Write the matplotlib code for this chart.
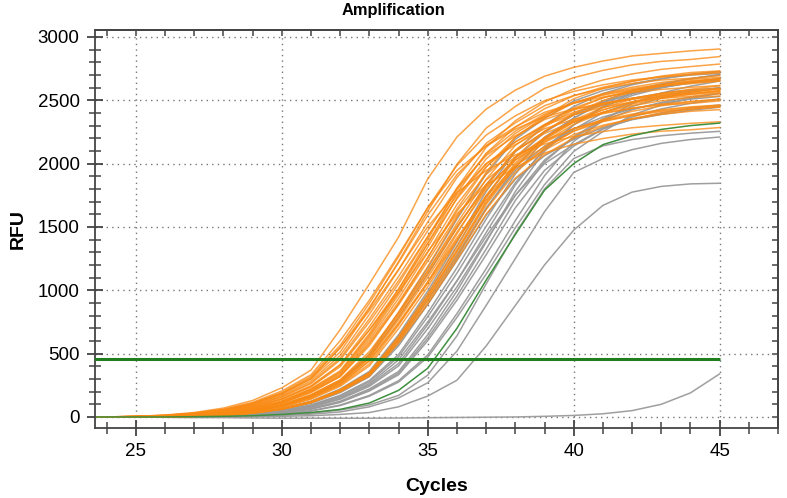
import matplotlib
matplotlib.use("Agg")
import matplotlib.pyplot as plt
from matplotlib.ticker import MultipleLocator

# cycle numbers and RFU readings per well
cycles = list(range(23, 46))
threshold = 455

orange_rfu = [
    [0, 0, 5, 15, 35, 70, 130, 230, 370, 690, 1050, 1420, 1880, 2210, 2430, 2580, 2690, 2760, 2810, 2850, 2870, 2890, 2905],
    [0, 0, 3, 10, 24, 51, 98, 178, 299, 513, 855, 1226, 1625, 1995, 2280, 2451, 2594, 2679, 2736, 2779, 2807, 2822, 2845],
    [0, 0, 3, 9, 23, 49, 93, 169, 284, 486, 810, 1161, 1539, 1890, 2160, 2322, 2457, 2538, 2592, 2633, 2660, 2673, 2695],
    [0, 0, 0, 5, 14, 33, 66, 123, 219, 356, 644, 986, 1370, 1767, 2082, 2288, 2433, 2535, 2603, 2650, 2685, 2707, 2726],
    [0, 0, 0, 5, 13, 31, 62, 117, 208, 338, 611, 936, 1300, 1677, 1976, 2171, 2309, 2405, 2470, 2514, 2548, 2569, 2587],
    [0, 0, 0, 5, 13, 30, 60, 113, 202, 328, 592, 907, 1260, 1625, 1915, 2104, 2238, 2331, 2394, 2437, 2470, 2490, 2507],
    [0, 0, 0, 3, 9, 23, 48, 92, 168, 281, 482, 804, 1152, 1528, 1876, 2144, 2305, 2439, 2519, 2573, 2613, 2640, 2653],
    [0, 0, 0, 3, 9, 22, 46, 88, 160, 269, 461, 768, 1101, 1459, 1792, 2048, 2202, 2330, 2406, 2458, 2496, 2522, 2534],
    [0, 0, 0, 2, 9, 21, 45, 86, 155, 260, 446, 744, 1066, 1414, 1736, 1984, 2133, 2257, 2331, 2381, 2418, 2443, 2455],
    [0, 0, 0, 0, 5, 13, 31, 63, 118, 210, 341, 616, 943, 1310, 1690, 1991, 2188, 2327, 2424, 2489, 2534, 2568, 2589],
    [0, 0, 0, 0, 5, 13, 30, 61, 114, 203, 330, 597, 914, 1270, 1638, 1930, 2121, 2256, 2350, 2413, 2456, 2489, 2510],
    [0, 0, 0, 0, 5, 14, 32, 65, 122, 216, 351, 635, 972, 1350, 1742, 2052, 2255, 2398, 2498, 2565, 2611, 2646, 2668],
    [0, 0, 5, 12, 28, 56, 105, 186, 303, 548, 839, 1165, 1503, 1771, 1946, 2069, 2155, 2214, 2253, 2283, 2302, 2318, 2330],
    [0, 0, 2, 8, 19, 41, 79, 143, 240, 412, 687, 985, 1305, 1603, 1832, 1969, 2084, 2153, 2198, 2233, 2256, 2267, 2285],
    [0, 0, 0, 5, 12, 30, 59, 111, 197, 320, 578, 886, 1230, 1587, 1870, 2054, 2185, 2276, 2337, 2379, 2411, 2430, 2448],
    [0, 0, 3, 9, 22, 46, 89, 161, 271, 464, 774, 1109, 1471, 1806, 2064, 2219, 2348, 2425, 2477, 2516, 2541, 2554, 2575],
    [0, 0, 0, 3, 10, 23, 50, 95, 173, 290, 497, 828, 1187, 1573, 1932, 2208, 2374, 2512, 2594, 2650, 2691, 2719, 2732],
    [0, 0, 0, 0, 5, 12, 30, 60, 112, 198, 322, 583, 893, 1240, 1600, 1885, 2071, 2202, 2294, 2356, 2398, 2430, 2450],
    [0, 0, 5, 13, 31, 61, 115, 205, 333, 602, 922, 1280, 1651, 1946, 2138, 2273, 2368, 2432, 2476, 2509, 2529, 2547, 2560],
    [0, 0, 0, 5, 13, 32, 64, 121, 214, 348, 630, 965, 1340, 1729, 2037, 2238, 2380, 2479, 2546, 2592, 2626, 2648, 2667],
    [0, 0, 0, 3, 9, 22, 47, 90, 164, 275, 472, 786, 1127, 1493, 1834, 2096, 2253, 2384, 2463, 2515, 2555, 2581, 2594],
    [0, 0, 0, 0, 5, 13, 31, 62, 117, 208, 338, 611, 936, 1300, 1677, 1976, 2171, 2309, 2405, 2470, 2514, 2548, 2574],
    [0, 0, 3, 9, 21, 45, 86, 156, 263, 450, 750, 1075, 1425, 1750, 2000, 2150, 2275, 2350, 2400, 2438, 2463, 2475, 2495],
    [0, 0, 0, 6, 14, 34, 67, 126, 224, 364, 658, 1008, 1400, 1806, 2128, 2338, 2486, 2590, 2660, 2708, 2744, 2766, 2786],
    [0, 0, 0, 2, 9, 21, 44, 85, 153, 257, 441, 735, 1054, 1397, 1715, 1960, 2107, 2230, 2303, 2352, 2389, 2413, 2426],
    [0, 0, 0, 0, 5, 13, 32, 63, 119, 211, 343, 620, 950, 1320, 1703, 2006, 2204, 2344, 2442, 2508, 2553, 2587, 2614],
    [0, 0, 4, 11, 27, 55, 105, 186, 309, 545, 865, 1218, 1593, 1913, 2143, 2290, 2405, 2476, 2526, 2562, 2586, 2602, 2617],
    [0, 0, 4, 12, 28, 57, 109, 193, 321, 566, 898, 1265, 1654, 1986, 2225, 2377, 2497, 2570, 2622, 2660, 2685, 2701, 2717],
    [0, 0, 1, 7, 18, 40, 77, 144, 247, 412, 713, 1051, 1423, 1790, 2075, 2256, 2391, 2482, 2540, 2583, 2615, 2631, 2652],
    [0, 0, 1, 7, 17, 38, 74, 138, 238, 397, 686, 1011, 1370, 1723, 1997, 2171, 2301, 2388, 2445, 2486, 2516, 2532, 2552],
    [0, 0, 0, 4, 12, 28, 57, 108, 192, 319, 562, 891, 1256, 1642, 1971, 2209, 2360, 2479, 2552, 2603, 2641, 2665, 2681],
    [0, 0, 0, 4, 11, 26, 52, 99, 176, 293, 516, 818, 1153, 1508, 1810, 2029, 2168, 2277, 2344, 2391, 2425, 2448, 2463],
    [0, 0, 0, 1, 7, 18, 39, 75, 140, 242, 403, 697, 1027, 1391, 1750, 2028, 2205, 2337, 2426, 2483, 2525, 2556, 2571],
    [0, 0, 0, 1, 8, 18, 41, 78, 146, 251, 419, 724, 1067, 1445, 1817, 2106, 2290, 2427, 2519, 2579, 2622, 2654, 2670],
]

gray_rfu = [
    [0, 0, 0, 3, 10, 23, 49, 95, 171, 288, 493, 822, 1178, 1562, 1918, 2192, 2357, 2494, 2576, 2630, 2672, 2699, 2713],
    [0, 0, 0, 0, 6, 14, 33, 66, 124, 221, 359, 649, 994, 1380, 1780, 2098, 2305, 2451, 2553, 2622, 2669, 2705, 2727],
    [0, 0, 0, 0, 5, 13, 32, 65, 121, 215, 350, 632, 968, 1345, 1735, 2044, 2246, 2389, 2488, 2555, 2601, 2636, 2658],
    [0, 0, 0, 0, 3, 10, 23, 49, 95, 171, 288, 493, 822, 1178, 1562, 1918, 2192, 2357, 2494, 2576, 2630, 2672, 2699],
    [0, 0, 0, 0, 3, 9, 22, 48, 91, 165, 277, 475, 792, 1135, 1505, 1848, 2112, 2270, 2402, 2482, 2534, 2574, 2600],
    [0, 0, 0, 0, 0, 6, 14, 33, 66, 124, 221, 359, 649, 994, 1380, 1780, 2098, 2305, 2451, 2553, 2622, 2669, 2705],
    [0, 0, 0, 0, 0, 5, 13, 32, 64, 119, 212, 345, 623, 954, 1325, 1709, 2014, 2213, 2353, 2451, 2518, 2563, 2597],
    [0, 0, 0, 0, 5, 13, 31, 61, 115, 205, 333, 602, 922, 1280, 1651, 1946, 2138, 2273, 2368, 2432, 2476, 2509, 2530],
    [0, 0, 0, 0, 0, 3, 10, 23, 49, 94, 170, 286, 490, 816, 1170, 1550, 1904, 2176, 2339, 2475, 2557, 2611, 2652],
    [0, 0, 0, 0, 0, 5, 13, 31, 61, 115, 205, 333, 602, 922, 1280, 1651, 1946, 2138, 2273, 2368, 2432, 2476, 2509],
    [0, 0, 0, 0, 3, 9, 21, 45, 86, 156, 263, 450, 750, 1075, 1425, 1750, 2000, 2150, 2275, 2350, 2400, 2438, 2463],
    [0, 0, 0, 0, 0, 3, 9, 22, 47, 90, 164, 275, 472, 786, 1127, 1493, 1834, 2096, 2253, 2384, 2463, 2515, 2555],
    [0, 0, 0, 0, 5, 12, 30, 59, 111, 198, 321, 580, 889, 1235, 1593, 1877, 2062, 2193, 2285, 2347, 2388, 2421, 2445],
    [0, 0, 0, 3, 9, 22, 47, 90, 164, 275, 472, 786, 1127, 1493, 1834, 2096, 2253, 2384, 2463, 2515, 2555, 2581, 2594],
    [0, 0, 0, 0, 4, 12, 28, 57, 108, 192, 319, 562, 891, 1256, 1642, 1971, 2209, 2360, 2479, 2552, 2603, 2641, 2665],
    [0, 0, 0, 0, 1, 7, 18, 39, 75, 140, 242, 403, 697, 1027, 1391, 1750, 2028, 2205, 2337, 2426, 2483, 2525, 2556],
    [0, 0, 0, 0, 1, 8, 18, 41, 79, 147, 253, 422, 729, 1074, 1455, 1831, 2122, 2307, 2445, 2538, 2598, 2641, 2674],
    [0, 0, 0, 0, 0, 3, 8, 16, 30, 55, 95, 170, 330, 640, 1050, 1450, 1800, 2040, 2140, 2190, 2220, 2240, 2255],
    [0, 0, 0, 0, 0, 2, 6, 12, 22, 40, 80, 150, 270, 520, 880, 1250, 1620, 1930, 2040, 2110, 2160, 2190, 2210],
    [0, 0, 0, 0, 0, 0, 2, 5, 10, 20, 35, 80, 165, 290, 560, 880, 1200, 1475, 1670, 1775, 1820, 1840, 1845],
    [0, 0, 0, -3, -5, -5, -8, -10, -10, -10, -10, -8, -6, -4, -2, 0, 5, 12, 25, 50, 100, 190, 340],
]

green_rfu = [0, 0, 0, 0, 2, 5, 10, 20, 35, 60, 110, 210, 385, 700, 1080, 1440, 1790, 2000, 2150, 2220, 2270, 2300, 2320]

plt.rcParams['font.family'] = ['Liberation Sans', 'DejaVu Sans']

fig = plt.figure(figsize=(7.87, 4.98), dpi=100)
ax = fig.add_axes([0.1207, 0.1406, 0.8679, 0.7992])

for row in gray_rfu:
    ax.plot(cycles, row, color='#9a9a9a', lw=1.1, alpha=0.95)
for row in orange_rfu:
    ax.plot(cycles, row, color='#f98a14', lw=1.1, alpha=0.78)
ax.plot(cycles, green_rfu, color='#3f8f3f', lw=1.1)
ax.hlines(threshold, cycles[0], 45, color='#1f7f1f', lw=2.2, zorder=5)

ax.set_xlim(23.6, 47)
ax.set_ylim(-87, 3055)
ax.xaxis.set_major_locator(MultipleLocator(5))
ax.xaxis.set_minor_locator(MultipleLocator(1))
ax.yaxis.set_major_locator(MultipleLocator(500))
ax.yaxis.set_minor_locator(MultipleLocator(100))
ax.grid(True, which='major', linestyle=(0, (1, 3)), color='#777777', lw=1.0)

for s in ax.spines.values():
    s.set_color('#444444')
    s.set_linewidth(1.3)

ax.tick_params(which='major', direction='inout', length=12, width=1.3, color='#444444', labelsize=13.5, pad=5)
ax.tick_params(which='minor', direction='inout', length=8, width=1.1, color='#444444')

# ticks pointing in on the top and right edges
top = ax.secondary_xaxis('top')
top.xaxis.set_major_locator(MultipleLocator(5))
top.xaxis.set_minor_locator(MultipleLocator(1))
top.tick_params(which='both', direction='in', length=4, width=1.1, color='#444444', labeltop=False)
right = ax.secondary_yaxis('right')
right.yaxis.set_major_locator(MultipleLocator(500))
right.yaxis.set_minor_locator(MultipleLocator(100))
right.tick_params(which='both', direction='in', length=4, width=1.1, color='#444444', labelright=False)
for sec in (top, right):
    for s in sec.spines.values():
        s.set_color('#444444')
        s.set_linewidth(1.3)

ax.set_xlabel('Cycles', fontsize=14, fontweight='bold', labelpad=13)
ax.set_ylabel('RFU', fontsize=14, fontweight='bold', labelpad=8)
fig.text(0.5, 0.978, 'Amplification', ha='center', va='center', fontsize=11.8, fontweight='bold')

fig.savefig('out.png', dpi=100)
